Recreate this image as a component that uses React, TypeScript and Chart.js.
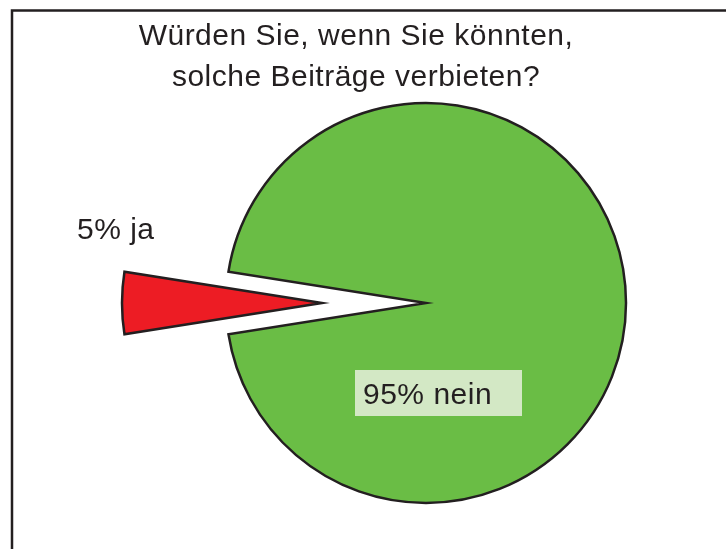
import React, { useEffect, useRef } from "react";
import { Chart, registerables } from "chart.js";

Chart.register(...registerables);

// ---- data ----
const categories = ["ja", "nein"];
const percentages = [5, 95];
const titleLines = ["Würden Sie, wenn Sie könnten,", "solche Beiträge verbieten?"];

// ---- styles ----
const sliceColors = ["#ED1C24", "#6ABD45"];
const explodeBy = [104, 0];
const INK = "#231f20";
const FONT = '30px "Liberation Sans", Arial, sans-serif';
const LETTER_SPACING = "0.5px";
const LABEL_BOX = "#D3E8C5";

const explodePlugin = {
  id: "explodeSlices",
  afterDatasetsUpdate(chart: any) {
    const meta = chart.getDatasetMeta(0);
    meta.data.forEach((arc: any, i: number) => {
      const d = explodeBy[i] || 0;
      if (!d) return;
      const mid = (arc.startAngle + arc.endAngle) / 2;
      arc.x += Math.cos(mid) * d;
      arc.y += Math.sin(mid) * d;
    });
  },
};

const textPlugin = {
  id: "textAndFrame",
  beforeDraw(chart: any) {
    const ctx = chart.ctx;
    ctx.save();
    ctx.strokeStyle = INK;
    ctx.lineWidth = 2.5;
    ctx.strokeRect(12, 10.5, 800, 700);
    ctx.restore();
  },
  afterDatasetsDraw(chart: any) {
    const ctx = chart.ctx;
    const meta = chart.getDatasetMeta(0);
    const green = meta.data[1];
    const cx = green.x;
    const cy = green.y;
    ctx.save();
    ctx.font = FONT;
    (ctx as any).letterSpacing = LETTER_SPACING;
    ctx.fillStyle = INK;
    ctx.textBaseline = "alphabetic";

    // title
    ctx.textAlign = "center";
    titleLines.forEach((line, i) => ctx.fillText(line, 356, 45 + i * 41));

    // "ja" label
    ctx.textAlign = "left";
    ctx.fillText(`${percentages[0]}% ${categories[0]}`, cx - 349, cy - 64);

    // "nein" label with box
    ctx.fillStyle = LABEL_BOX;
    ctx.fillRect(cx - 71, cy + 67, 167, 46);
    ctx.fillStyle = INK;
    ctx.fillText(`${percentages[1]}% ${categories[1]}`, cx - 63, cy + 101);
    ctx.restore();
  },
};

export default function App() {
  const ref = useRef<HTMLCanvasElement>(null);
  useEffect(() => {
    if (!ref.current) return;
    const chart = new Chart(ref.current, {
      type: "pie",
      data: {
        labels: categories,
        datasets: [
          {
            data: percentages,
            backgroundColor: sliceColors,
            borderColor: INK,
            borderWidth: 2.5,
            borderJoinStyle: "miter",
          } as any,
        ],
      },
      options: {
        responsive: false,
        animation: false,
        rotation: 261,
        radius: 200,
        layout: { padding: { left: 126, right: 0, top: 57, bottom: 0 } },
        plugins: {
          legend: { display: false },
          title: { display: false },
          tooltip: { enabled: false },
        },
      } as any,
      plugins: [explodePlugin, textPlugin],
    });
    return () => chart.destroy();
  }, []);
  return (
    <div style={{ position: "fixed", left: 0, top: 0, width: 726, height: 549, background: "#fff" }}>
      <canvas ref={ref} width={726} height={549} style={{ width: 726, height: 549, display: "block" }} />
    </div>
  );
}
